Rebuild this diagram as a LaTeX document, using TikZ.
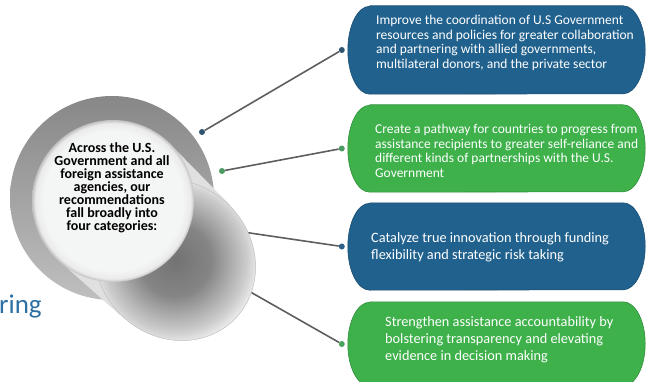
\documentclass[tikz,border=0pt]{standalone}
\usepackage{fontspec}
\setmainfont{Carlito}
\usetikzlibrary{calc}

\definecolor{pillblue}{HTML}{21618E}
\definecolor{pillgreen}{HTML}{3EB14B}
\definecolor{titleblue}{HTML}{2C6FA3}
\definecolor{dotblue}{HTML}{2E5470}
\definecolor{dotbluelight}{HTML}{2D6189}
\definecolor{dotgreen}{HTML}{4A9B62}
\definecolor{dotgreenlight}{HTML}{4BA35E}
\definecolor{linkgray}{HTML}{5E5E5E}
\definecolor{corewhite}{HTML}{F4F5F5}

% soft far end of the raised disc: dark in the middle, white at the rim
\pgfdeclareradialshading{tubeshade}{\pgfpoint{0bp}{0bp}}{%
  color(0bp)=(black!55); color(10bp)=(black!48); color(20bp)=(black!20);
  color(24bp)=(black!5); color(25bp)=(white!97!black); color(50bp)=(white!97!black)}
% raised face with a narrow bevel at its edge
\pgfdeclareradialshading{coreshade}{\pgfpoint{0bp}{0bp}}{%
  color(0bp)=(corewhite); color(21.5bp)=(corewhite); color(24bp)=(black!8);
  color(25bp)=(black!25); color(50bp)=(black!25)}

% capsule with elliptical ends filling the box of a named node
% #1 node name, #2 half height, #3 colour
\newcommand\pillshape[3]{%
  \fill[#3, draw=#3!80!black, line width=0.6pt]
    ([xshift=22pt]#1.north west) -- ([xshift=-22pt]#1.north east)
    arc[start angle=90, end angle=-90, x radius=22pt, y radius=#2pt]
    -- ([xshift=22pt]#1.south west)
    arc[start angle=270, end angle=90, x radius=22pt, y radius=#2pt] -- cycle;}

\begin{document}
\begin{tikzpicture}[x=1pt, y=1pt,
  pillslot/.style={rectangle, inner sep=0pt, minimum width=297pt},
  pilltext/.style={anchor=west, inner sep=0pt, align=left, text=white},
  smalltext/.style={font=\fontsize{13.5}{14.5}\selectfont},
  largetext/.style={font=\fontsize{14.3}{16.8}\selectfont},
  dotmark/.style={circle, inner sep=0pt, minimum size=6pt},
  link/.style={draw=linkgray, line width=1.6pt},
]
\useasboundingbox (0,0) rectangle (650,-382);

% category capsules
\node[pillslot, minimum height=88pt] (p1) at (496.5,-50) {};
\node[pillslot, minimum height=87pt] (p2) at (496.5,-148.5) {};
\node[pillslot, minimum height=87pt] (p3) at (496.5,-246.5) {};
\node[pillslot, minimum height=84pt] (p4) at (496.5,-344) {};
\pillshape{p1}{44}{pillblue}
\pillshape{p2}{43.5}{pillgreen}
\pillshape{p3}{43.5}{pillblue}
\pillshape{p4}{42}{pillgreen}

\node[pilltext, smalltext] (t1) at (376,-43) {Improve the coordination of U.S Government\\resources and policies for greater collaboration\\and partnering with allied governments,\\multilateral donors, and the private sector};
\node[pilltext, smalltext] (t2) at (375,-151) {Create a pathway for countries to progress from\\assistance recipients to greater self-reliance and\\different kinds of partnerships with the U.S.\\Government};
\node[pilltext, largetext] (t3) at (371,-247.5) {Catalyze true innovation through funding\\flexibility and strategic risk taking};
\node[pilltext, largetext] (t4) at (385,-340) {Strengthen assistance accountability by\\bolstering transparency and elevating\\evidence in decision making};

% connector end points
\node[dotmark, fill=dotblue] (d1) at ([xshift=-6pt]p1.west) {};
\node[dotmark, fill=dotgreen] (d2) at ([xshift=-6pt]p2.west) {};
\node[dotmark, fill=dotbluelight] (d3) at ([xshift=-6pt]p3.west) {};
\node[dotmark, fill=dotgreenlight] (d4) at ([xshift=-6pt]p4.west) {};
\node[dotmark, fill=dotblue] (c1) at (202,-132) {};
\node[dotmark, fill=dotgreen] (c2) at (222,-171) {};
\coordinate (c3) at (226,-229.5);
\coordinate (c4) at (232,-281.5);

\draw[link] (c1) -- (d1);
\draw[link] (c2) -- (d2);
\draw[link] (c3) -- (d3);
\draw[link] (c4) -- (d4);

% tail of the heading at the left edge
\node[anchor=base west, inner sep=0pt, text=titleblue,
      font=\fontsize{27}{30}\selectfont] (tail) at (-1,-313) {ring};

% grey disc with the raised face pulled towards the lower right
\node[circle, minimum size=204pt, inner sep=0pt,
      top color=black!47, bottom color=black!25] (rim) at (112,-198) {};
\fill[black!12] (56,-258) -- (120,-315) -- (230,-205) -- (170,-144) -- cycle;
\shade[shading=tubeshade, draw=black!25, line width=0.5pt,
       rotate around={-45:(175,-260)}] (175,-260) ellipse [x radius=84, y radius=77];
\node[circle, minimum size=162pt, inner sep=0pt, shade, shading=coreshade] (core) at (113,-201) {};
\node[align=center, inner sep=0pt, font=\bfseries\fontsize{14}{13}\selectfont] (msg) at (112,-188)
  {Across the U.S.\\Government and all\\foreign assistance\\agencies, our\\recommendations\\fall broadly into\\four categories:};
\end{tikzpicture}
\end{document}
